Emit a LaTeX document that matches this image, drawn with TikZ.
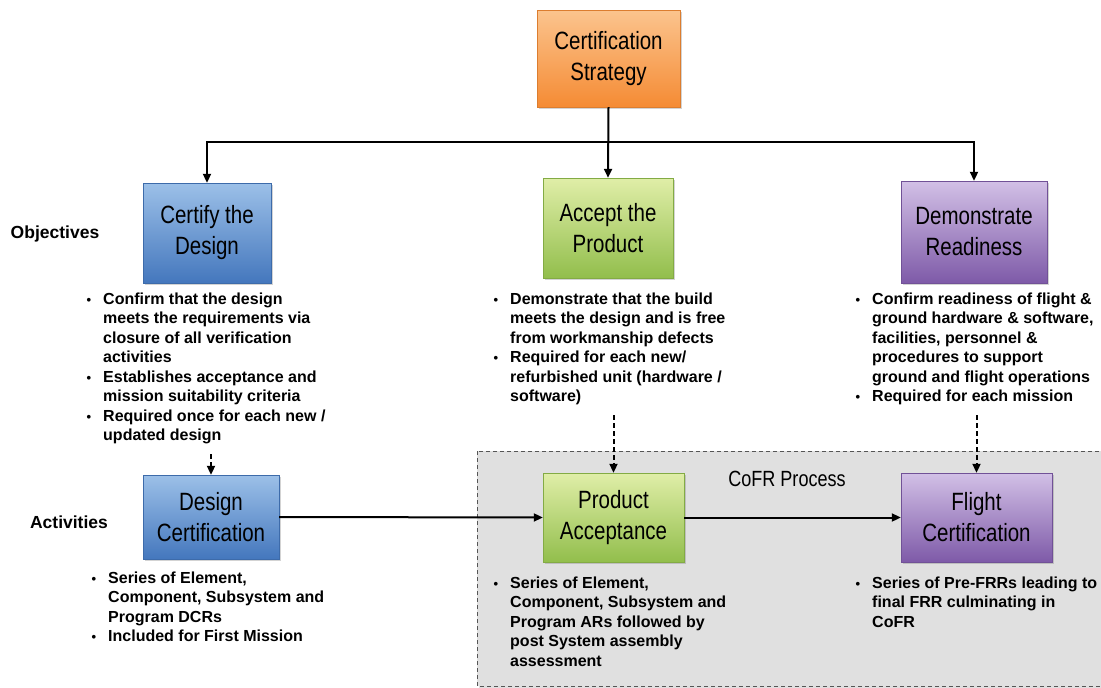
\documentclass[tikz,border=0pt]{standalone}
\usepackage{fontspec}
\setmainfont{Liberation Sans}
\newfontfamily\narrowfont[FakeStretch=0.82]{Liberation Sans}
\definecolor{COFRgray}{HTML}{E0E0E0}
\definecolor{COFRedge}{HTML}{555555}
\definecolor{ORtop}{HTML}{FBC48E}
\definecolor{ORbot}{HTML}{F58B34}
\definecolor{BLtop}{HTML}{9CC0E8}
\definecolor{BLbot}{HTML}{4477BD}
\definecolor{GRtop}{HTML}{E0EEA8}
\definecolor{GRbot}{HTML}{92BE4C}
\definecolor{PUtop}{HTML}{D2C0E6}
\definecolor{PUbot}{HTML}{7E5AA8}
\usetikzlibrary{arrows.meta, shadows}

\newcommand{\bul}{\llap{{\fontsize{13}{13}\selectfont\textbullet}\hspace{12pt}}}

\begin{document}
\begin{tikzpicture}[x=1pt, y=-1pt,
    stage/.style={align=center, inner sep=0pt, font=\narrowfont\fontsize{25}{31}\selectfont,
      drop shadow={opacity=0.35, shadow xshift=1.5pt, shadow yshift=-2pt}},
    orangebox/.style={stage, top color=ORtop, bottom color=ORbot, draw=ORbot!90!black, line width=0.4pt},
    bluebox/.style={stage, top color=BLtop, bottom color=BLbot, draw=BLbot!90!black, line width=0.4pt},
    greenbox/.style={stage, top color=GRtop, bottom color=GRbot, draw=GRbot!90!black, line width=0.4pt},
    purplebox/.style={stage, top color=PUtop, bottom color=PUbot, draw=PUbot!90!black, line width=0.4pt},
    bullets/.style={anchor=north west, align=left, inner sep=0pt, font=\bfseries\fontsize{16}{19.5}\selectfont},
    rowlabel/.style={font=\bfseries\fontsize{17.5}{20}\selectfont},
    arr/.style={-{Triangle[length=9pt,width=8pt]}, line width=2pt},
    dasharr/.style={arr, dash pattern=on 5pt off 3pt, shorten <=10pt}]
  \useasboundingbox (0,0) rectangle (1101,688);
  \clip (0,0) rectangle (1101,688);

  % CoFR process region
  \draw[fill=COFRgray, draw=COFRedge, line width=0.9pt, dash pattern=on 4pt off 3pt,
        drop shadow={opacity=0.25, shadow xshift=1.5pt, shadow yshift=-1.5pt}]
    (477,451) rectangle (1120,686);
  \node[font=\narrowfont\fontsize{22}{26}\selectfont] (cofr) at (787,479) {CoFR Process};

  % row labels
  \node[rowlabel] (objlbl) at (55,234) {Objectives};
  \node[rowlabel] (actlbl) at (69,522) {Activities};

  % boxes
  \node[orangebox, minimum width=143, minimum height=97] (strategy) at (608.5,58.5) {Certification\\Strategy};
  \node[bluebox, minimum width=128, minimum height=100] (certify) at (207,233) {Certify the\\Design};
  \node[greenbox, minimum width=130, minimum height=100] (accept) at (608,228) {Accept the\\Product};
  \node[purplebox, minimum width=146, minimum height=102] (demo) at (974,232) {Demonstrate\\Readiness};
  \node[bluebox, minimum width=136, minimum height=84] (dcert) at (211,517) {Design\\Certification};
  \node[greenbox, minimum width=141, minimum height=89] (pacc) at (613.5,517.5) {Product\\Acceptance};
  \node[purplebox, minimum width=151, minimum height=89] (fcert) at (976.5,517.5) {Flight\\Certification};

  % objective bullets
  \node[bullets] (certbul) at (103,292.5) {\bul Confirm that the design\\meets the requirements via\\closure of all verification\\activities\\
    \bul Establishes acceptance and\\mission suitability criteria\\\bul Required once for each new /\\updated design};
  \node[bullets] (accbul) at (510,292.5) {\bul Demonstrate that the build\\meets the design and is free\\from workmanship defects\\
    \bul Required for each new/\\refurbished unit (hardware /\\software)};
  \node[bullets] (demobul) at (872,292.5) {\bul Confirm readiness of flight \&\\ground hardware \& software,\\facilities, personnel \&\\procedures to support\\ground and flight operations\\
    \bul Required for each mission};

  % activity bullets
  \node[bullets] (dcertbul) at (108,571.5) {\bul Series of Element,\\Component, Subsystem and\\Program DCRs\\\bul Included for First Mission};
  \node[bullets] (paccbul) at (510,576.5) {\bul Series of Element,\\Component, Subsystem and\\Program ARs followed by\\post System assembly\\assessment};
  \node[bullets] (fcertbul) at (872,576.5) {\bul Series of Pre-FRRs leading to\\final FRR culminating in\\CoFR};

  % connectors
  \coordinate (split) at (608.5,142);
  \draw[arr] (strategy.south) -- (accept.north);
  \draw[arr] (split) -| (certify.north);
  \draw[arr] (split) -| (demo.north);
  \draw[dasharr] (certbul.south -| dcert.north) -- (dcert.north);
  \draw[dasharr] (accbul.south -| pacc.north) -- (pacc.north);
  \draw[dasharr] (demobul.south -| fcert.north) -- (fcert.north);
  \draw[arr] (dcert.east) -- (pacc.west);
  \draw[arr] (pacc.east) -- (fcert.west);
\end{tikzpicture}
\end{document}
